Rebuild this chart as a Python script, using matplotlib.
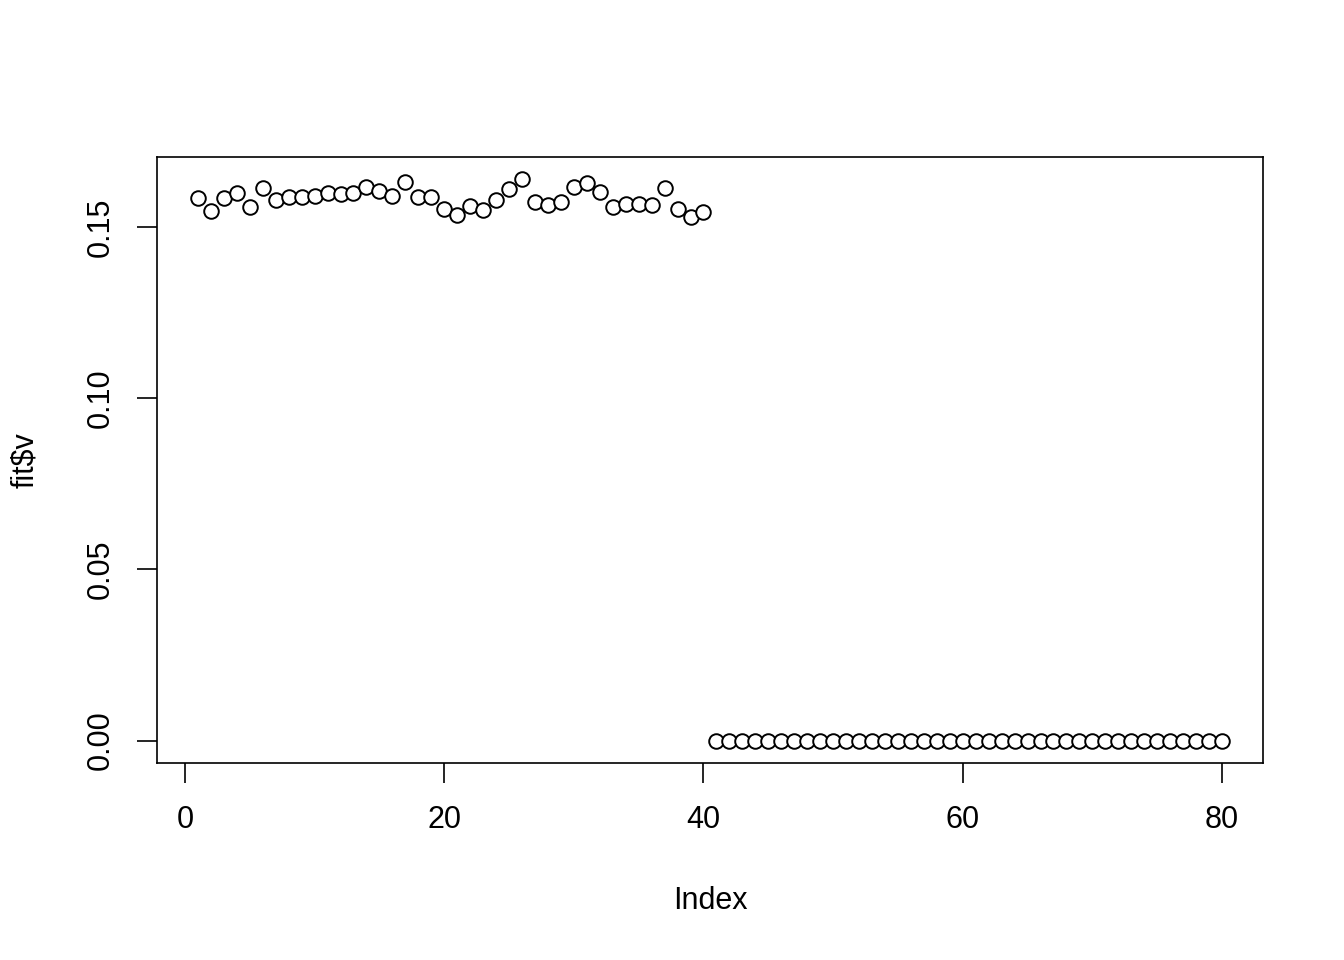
import numpy as np
import matplotlib.pyplot as plt

plt.rcParams['font.family'] = ['Liberation Sans', 'DejaVu Sans']

# first 40 values, last 40 are zero
v_first = [0.1585, 0.1547, 0.1585, 0.1599, 0.1559, 0.1614, 0.1579, 0.1588, 0.1588, 0.1591,
           0.1599, 0.1596, 0.1599, 0.1617, 0.1605, 0.1591, 0.1632, 0.1588, 0.1588, 0.1553,
           0.1535, 0.1561, 0.1550, 0.1579, 0.1611, 0.1640, 0.1573, 0.1564, 0.1573, 0.1617,
           0.1629, 0.1602, 0.1559, 0.1567, 0.1567, 0.1564, 0.1614, 0.1553, 0.1529, 0.1544]
v_second = [0.0] * 40
fit_v = np.array(v_first + v_second)
index = np.arange(1, len(fit_v) + 1)

xticks = [0, 20, 40, 60, 80]
yticks = [0.00, 0.05, 0.10, 0.15]
ytick_labels = ['0.00', '0.05', '0.10', '0.15']

fig = plt.figure(figsize=(13.44, 9.6), dpi=100)
ax = fig.add_axes([0.1168, 0.2052, 0.8229, 0.6313])

ax.plot(index, fit_v, 'o', mfc='white', mec='black', ms=10.5, mew=1.4)

# R style padding of 4%
xr = index.max() - index.min()
ax.set_xlim(index.min() - 0.04 * xr, index.max() + 0.04 * xr)
yr = fit_v.max() - fit_v.min()
ax.set_ylim(fit_v.min() - 0.04 * yr, fit_v.max() + 0.04 * yr)

ax.set_xticks(xticks)
ax.set_yticks(yticks)
ax.set_yticklabels(ytick_labels, rotation=90, va='center')
ax.tick_params(direction='out', length=14.4, width=1.2, labelsize=22)
ax.tick_params(axis='x', pad=16)
ax.tick_params(axis='y', pad=15)
for s in ax.spines.values():
    s.set_linewidth(1.2)

ax.set_xlabel('Index', fontsize=22)
ax.set_ylabel('fit$v', fontsize=22)
ax.xaxis.set_label_coords(0.5, -(901 - 763) / 606, transform=ax.transAxes)
ax.yaxis.set_label_coords(-(157 - 25) / 1106, 0.5, transform=ax.transAxes)
ax.xaxis.label.set_va('center')
ax.yaxis.label.set_va('center')

fig.savefig('out.png', dpi=100)
